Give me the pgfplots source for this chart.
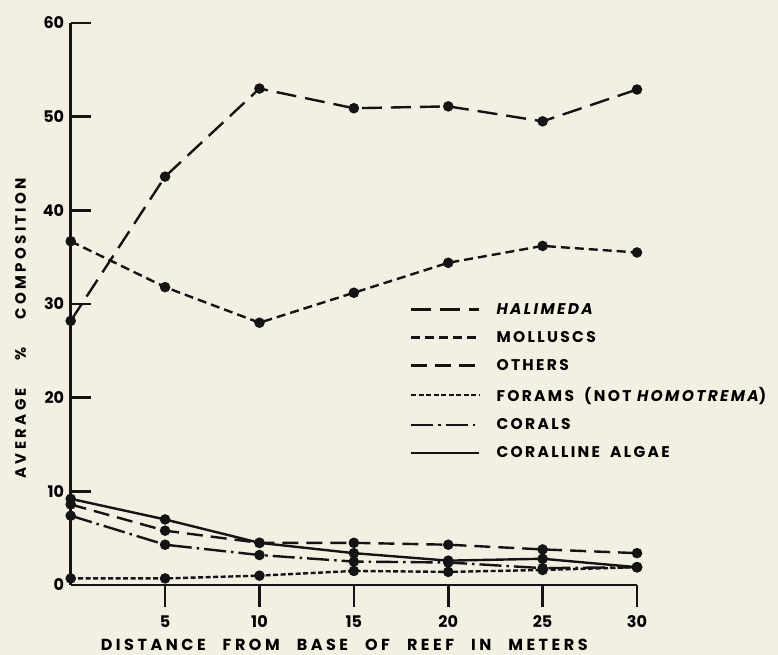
\documentclass[border=0pt]{standalone}
\usepackage{pgfplots}
\pgfplotsset{compat=1.18}
\usetikzlibrary{backgrounds}
\usepackage{fontspec}
\setmainfont{Poppins}
\definecolor{paper}{RGB}{243,239,227}
\definecolor{ink}{RGB}{20,20,20}
\begin{document}
\begin{tikzpicture}[font=\fontsize{16}{19}\selectfont\bfseries]
\begin{axis}[
  at={(70.7pt,70pt)}, anchor=south west,
  scale only axis, width=566.3pt, height=562pt,
  xmin=0, xmax=30, ymin=0, ymax=60,
  axis x line=bottom, axis y line=left,
  axis line style={-, line width=2.6pt, ink},
  tick align=inside,
  major tick length=20pt,
  every tick/.append style={line width=2.6pt, ink},
  xtick style={draw=none},
  xtick={5,10,15,20,25,30}, ytick={0,10,20,30,40,50,60},
  xticklabels={5,10,15,20,25,30},
  yticklabels={0,10,20,30,40,50,60},
  xticklabel style={yshift=-27pt},
  yticklabel style={xshift=-3pt},
  xlabel={\addfontfeatures{LetterSpace=22}DISTANCE\hspace{17pt}FROM\hspace{17pt}BASE\hspace{17pt}OF\hspace{17pt}REEF\hspace{17pt}IN\hspace{17pt}METERS},
  ylabel={\fontsize{15}{18}\selectfont\addfontfeatures{LetterSpace=22}AVERAGE\hspace{28pt}\%\hspace{28pt}COMPOSITION},
  every axis x label/.style={at={(rel axis cs:0.483,0)}, yshift=-60pt, anchor=center},
  every axis y label/.style={at={(rel axis cs:0,0.457)}, xshift=-50pt, rotate=90, anchor=center},
  legend style={at={(rel axis cs:0.599,0.505)}, anchor=north west, draw=none, fill=none,
    inner sep=0pt, row sep=11.5pt, font=\fontsize{15.5}{18}\selectfont\bfseries\addfontfeatures{LetterSpace=15}},
  legend cell align=left,
  legend image code/.code={\draw[#1, mark=none] (0pt,0pt) -- (68pt,0pt);},
  clip=false,
]
% x-axis ticks, pointing down out of the axis
\addplot[forget plot, mark=none, ink, line width=2.6pt] coordinates {(5,0)(5,-2.35)};
\addplot[forget plot, mark=none, ink, line width=2.6pt] coordinates {(10,0)(10,-2.35)};
\addplot[forget plot, mark=none, ink, line width=2.6pt] coordinates {(15,0)(15,-2.35)};
\addplot[forget plot, mark=none, ink, line width=2.6pt] coordinates {(20,0)(20,-2.35)};
\addplot[forget plot, mark=none, ink, line width=2.6pt] coordinates {(25,0)(25,-2.35)};
\addplot[forget plot, mark=none, ink, line width=2.6pt] coordinates {(30,0)(30,-2.35)};
\pgfplotsset{every axis plot/.append style={line width=2.4pt, ink, mark=*, mark size=4pt, mark options={solid, fill=ink}}}
% data
\addplot[dash pattern=on 20pt off 9pt] coordinates {(0,28.2)(5,43.6)(10,53.0)(15,50.9)(20,51.1)(25,49.5)(30,52.9)};
\addlegendentry{\hspace{14pt}{\itshape HALIMEDA}}
\addplot[dash pattern=on 9pt off 5pt] coordinates {(0,36.7)(5,31.8)(10,28.0)(15,31.2)(20,34.4)(25,36.2)(30,35.5)};
\addlegendentry{\hspace{14pt}MOLLUSCS}
\addplot[dash pattern=on 16pt off 8pt] coordinates {(0,8.6)(5,5.8)(10,4.5)(15,4.5)(20,4.3)(25,3.8)(30,3.4)};
\addlegendentry{\hspace{14pt}OTHERS}
\addplot[dash pattern=on 5pt off 2.5pt] coordinates {(0,0.7)(5,0.7)(10,1.0)(15,1.5)(20,1.4)(25,1.6)(30,1.9)};
\addlegendentry{\hspace{14pt}FORAMS\hspace{10pt}(NOT {\itshape HOMOTREMA})}
\addplot[dash pattern=on 22pt off 5pt on 2.5pt off 5pt] coordinates {(0,7.4)(5,4.3)(10,3.2)(15,2.5)(20,2.4)(25,1.8)(30,1.9)};
\addlegendentry{\hspace{14pt}CORALS}
\addplot[solid] coordinates {(0,9.2)(5,7.0)(10,4.5)(15,3.4)(20,2.6)(25,2.8)(30,1.9)};
\addlegendentry{\hspace{14pt}CORALLINE\hspace{10pt}ALGAE}
\end{axis}
\begin{scope}[on background layer]
\fill[paper] (0pt,0pt) rectangle (778pt,655pt);
\end{scope}
\end{tikzpicture}
\end{document}
